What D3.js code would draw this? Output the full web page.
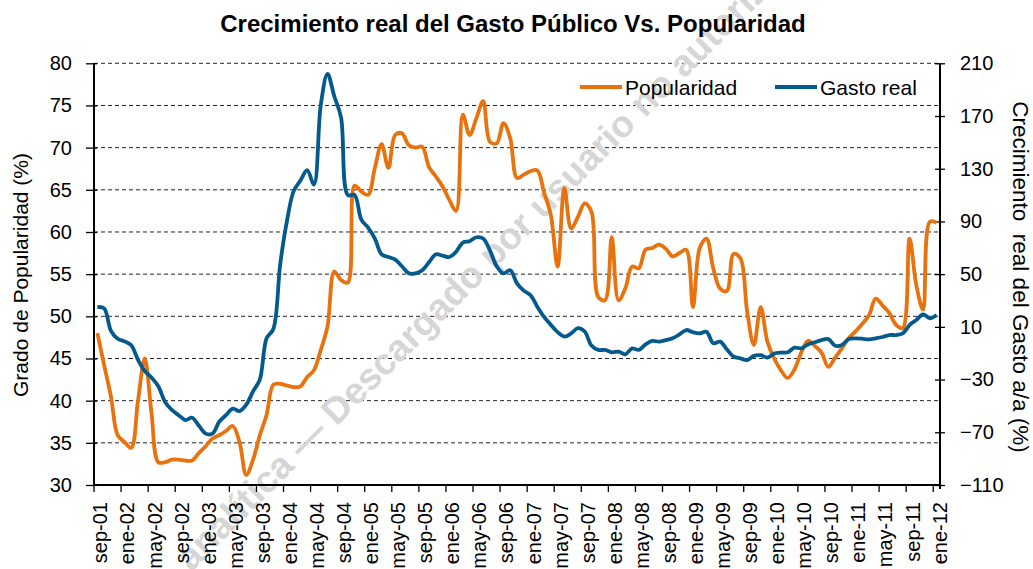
<!DOCTYPE html>
<head>
    <meta charset="utf-8">
    <title>Crecimiento real del Gasto Público Vs. Popularidad</title>
</head>

<script src="https://d3js.org/d3.v7.min.js"></script>

<div id="graph"></div>

<script>
    // monthly series, sep-01 .. ene-12
    var popularidad = [
        48.0, 44.2, 40.5, 35.9, 35.1, 34.4, 40.0, 45.0, 38.5, 32.7, 32.7, 33.0,
        33.0, 32.9, 32.9, 33.8, 34.6, 35.5, 35.9, 36.4, 37.0, 35.1, 31.2, 33.0,
        35.9, 38.3, 41.9, 42.0, 41.8, 41.6, 41.7, 42.8, 43.6, 46.0, 48.8, 55.3,
        54.3, 54.0, 65.5, 64.8, 64.4, 67.6, 70.4, 67.6, 71.5, 71.7, 70.3, 70.0,
        70.1, 67.7, 66.6, 65.4, 63.8, 62.5, 73.9, 71.5, 73.5, 75.5, 70.7, 70.5,
        72.9, 71.1, 66.4, 66.8, 67.2, 67.3, 64.7, 62.0, 55.9, 65.2, 60.4, 61.8,
        63.4, 62.4, 52.3, 51.9, 59.4, 51.9, 53.3, 55.9, 55.7, 57.9, 58.1, 58.5,
        58.0, 57.1, 57.5, 57.9, 51.1, 58.1, 59.2, 55.7, 53.3, 53.0, 57.4, 56.9,
        50.6, 46.6, 51.1, 47.0, 45.0, 43.6, 42.7, 43.7, 45.7, 47.1, 46.5, 45.7,
        44.0, 45.1, 46.2, 47.4, 48.2, 49.1, 50.1, 52.1, 51.3, 50.4, 49.0, 48.6,
        59.2, 53.7, 50.8, 61.2, 61.1
    ];

    var gastoReal = [
        25, 24, 7, 1, -1, -4, -15, -23.5, -28.5, -35, -47, -53,
        -57, -60.7, -59, -65, -71, -71, -62, -57, -52, -54, -49, -39,
        -30, 1.3, 8.4, 57, 90, 113, 121, 129, 118, 178, 202, 185,
        169, 110, 110, 91.4, 85.3, 77, 65, 63, 61, 56, 50.6, 50.6,
        53, 59, 65, 64, 63, 67, 74, 75, 78, 77, 68, 56,
        50.6, 53, 43, 37.5, 34, 25.3, 17.5, 11.5, 6, 2.6, 5, 9,
        6.5, -4.2, -7.5, -7.5, -9.3, -8.8, -10.8, -6.3, -7.5, -3.3, -0.7, -1.2,
        0, 1.3, 4.3, 7.6, 5.9, 5.1, 6.3, -2.5, -1.2, -7, -12.6, -13.9,
        -15.2, -12, -11.5, -13.3, -10.3, -9.5, -9.3, -5.8, -6.3, -3.3, -1.7, 0,
        0.7, -4.3, -3.8, 0.7, 1.3, 1, 0.5, 1.3, 2.3, 3.8, 3.8, 5,
        11.4, 15.2, 19.5, 16.5, 19
    ];

    // one label every 4 months
    var tickLabels = [
        "sep-01", "ene-02", "may-02", "sep-02", "ene-03", "may-03", "sep-03", "ene-04",
        "may-04", "sep-04", "ene-05", "may-05", "sep-05", "ene-06", "may-06", "sep-06",
        "ene-07", "may-07", "sep-07", "ene-08", "may-08", "sep-08", "ene-09", "may-09",
        "sep-09", "ene-10", "may-10", "sep-10", "ene-11", "may-11", "sep-11", "ene-12"
    ];

    var leftTicks = [30, 35, 40, 45, 50, 55, 60, 65, 70, 75, 80];
    var rightTicks = [-110, -70, -30, 10, 50, 90, 130, 170, 210];

    var months = d3.timeMonth.range(new Date(2001, 8, 1), new Date(2012, 1, 1));

    var W = 1033, H = 569;
    var plot = {left: 94, right: 940, top: 63.3, bottom: 485};

    var orange = "#E8720E", blue = "#045A8D";
    var font = "'Liberation Sans', Arial, sans-serif";

    var svg = d3.select("#graph")
        .append("svg")
            .attr("width", W)
            .attr("height", H)
            .style("background", "white");

    var x = d3.scaleBand()
        .domain(months.map(function(d, i) { return i; }))
        .range([plot.left, plot.right])
        .padding(0);

    var yL = d3.scaleLinear().domain([30, 80]).range([plot.bottom, plot.top]);
    var yR = d3.scaleLinear().domain([-110, 210]).range([plot.bottom, plot.top]);

    function cx(i) { return x(i) + x.bandwidth() / 2; }

    // dashed gridlines
    svg.append("g")
        .selectAll("line")
        .data(leftTicks.slice(1))
        .enter()
        .append("line")
            .attr("x1", plot.left)
            .attr("x2", plot.right)
            .attr("y1", function(d) { return yL(d); })
            .attr("y2", function(d) { return yL(d); })
            .attr("stroke", "#222")
            .attr("stroke-width", 1)
            .attr("stroke-dasharray", "4,3");

    // watermark
    svg.append("text")
        .attr("transform", "translate(182,563) rotate(-45)")
        .attr("dy", "0.35em")
        .text("analítica \u2014 Descargado por usuario no autorizado")
        .style("font-family", font)
        .style("font-weight", "bold")
        .style("font-size", "37px")
        .style("fill", "#d6d6d6");

    // left axis
    var leftAxis = svg.append("g")
        .attr("transform", "translate(" + plot.left + ",0)")
        .call(d3.axisLeft(yL).tickValues(leftTicks).tickSize(8).tickPadding(14));
    leftAxis.select(".domain").attr("stroke-width", 2).attr("d", "M0," + plot.top + "V" + plot.bottom);
    leftAxis.selectAll(".tick line").attr("x1", 3).attr("stroke-width", 1.3);

    // right axis
    var rightAxis = svg.append("g")
        .attr("transform", "translate(" + plot.right + ",0)")
        .call(d3.axisRight(yR).tickValues(rightTicks).tickSize(5).tickPadding(15));
    rightAxis.select(".domain").attr("stroke-width", 2).attr("d", "M0," + plot.top + "V" + (plot.bottom + 4));
    rightAxis.selectAll(".tick line").attr("x1", -5).attr("stroke-width", 1.3);

    svg.selectAll(".tick text")
        .style("font-family", font)
        .style("font-size", "20px")
        .style("fill", "#000");

    // bottom axis
    svg.append("line")
        .attr("x1", plot.left - 1).attr("x2", plot.right + 1)
        .attr("y1", plot.bottom).attr("y2", plot.bottom)
        .attr("stroke", "#000").attr("stroke-width", 2);

    var xt = svg.append("g");
    tickLabels.forEach(function(lab, k) {
        var i = k * 4;
        xt.append("line")
            .attr("x1", x(i)).attr("x2", x(i))
            .attr("y1", plot.bottom).attr("y2", plot.bottom + 7)
            .attr("stroke", "#000").attr("stroke-width", 1.3);
        xt.append("text")
            .attr("transform", "translate(" + (cx(i) + 3) + "," + (plot.bottom + 17) + ") rotate(-90)")
            .attr("dy", "0.35em")
            .attr("text-anchor", "end")
            .text(lab)
            .style("font-family", font)
            .style("font-size", "20px");
    });

    // lines (smoothed like the original)
    var lineL = d3.line()
        .x(function(d, i) { return cx(i); })
        .y(function(d) { return yL(d); })
        .curve(d3.curveCatmullRom.alpha(0.5));

    var lineR = d3.line()
        .x(function(d, i) { return cx(i); })
        .y(function(d) { return yR(d); })
        .curve(d3.curveCatmullRom.alpha(0.5));

    svg.append("path")
        .datum(popularidad)
        .attr("d", lineL)
        .attr("fill", "none")
        .attr("stroke", orange)
        .attr("stroke-width", 3.8)
        .attr("stroke-linejoin", "round");

    svg.append("path")
        .datum(gastoReal)
        .attr("d", lineR)
        .attr("fill", "none")
        .attr("stroke", blue)
        .attr("stroke-width", 3.8)
        .attr("stroke-linejoin", "round");

    // title
    svg.append("text")
        .attr("x", 513)
        .attr("y", 32)
        .attr("text-anchor", "middle")
        .text("Crecimiento real del Gasto Público Vs. Popularidad")
        .style("font-family", font)
        .style("font-weight", "bold")
        .style("font-size", "24px");

    // axis titles
    svg.append("text")
        .attr("transform", "translate(28,275) rotate(-90)")
        .attr("text-anchor", "middle")
        .text("Grado de Popularidad (%)")
        .style("font-family", font)
        .style("font-size", "21px");

    svg.append("text")
        .attr("transform", "translate(1013,277) rotate(90)")
        .attr("text-anchor", "middle")
        .text("Crecimiento  real del Gasto a/a (%)")
        .style("white-space", "pre")
        .style("font-family", font)
        .style("font-size", "22.5px");

    // LEGEND
    var legend = [
        {name: "Popularidad", color: orange, x: 580},
        {name: "Gasto real", color: blue, x: 775}
    ];
    legend.forEach(function(l) {
        svg.append("line")
            .attr("x1", l.x).attr("x2", l.x + 42)
            .attr("y1", 87).attr("y2", 87)
            .attr("stroke", l.color).attr("stroke-width", 3.8);
        svg.append("text")
            .attr("x", l.x + 45)
            .attr("y", 95)
            .text(l.name)
            .style("font-family", font)
            .style("font-size", "21px");
    });
</script>

<style>
    body { margin: 0; background: white; }
</style>
